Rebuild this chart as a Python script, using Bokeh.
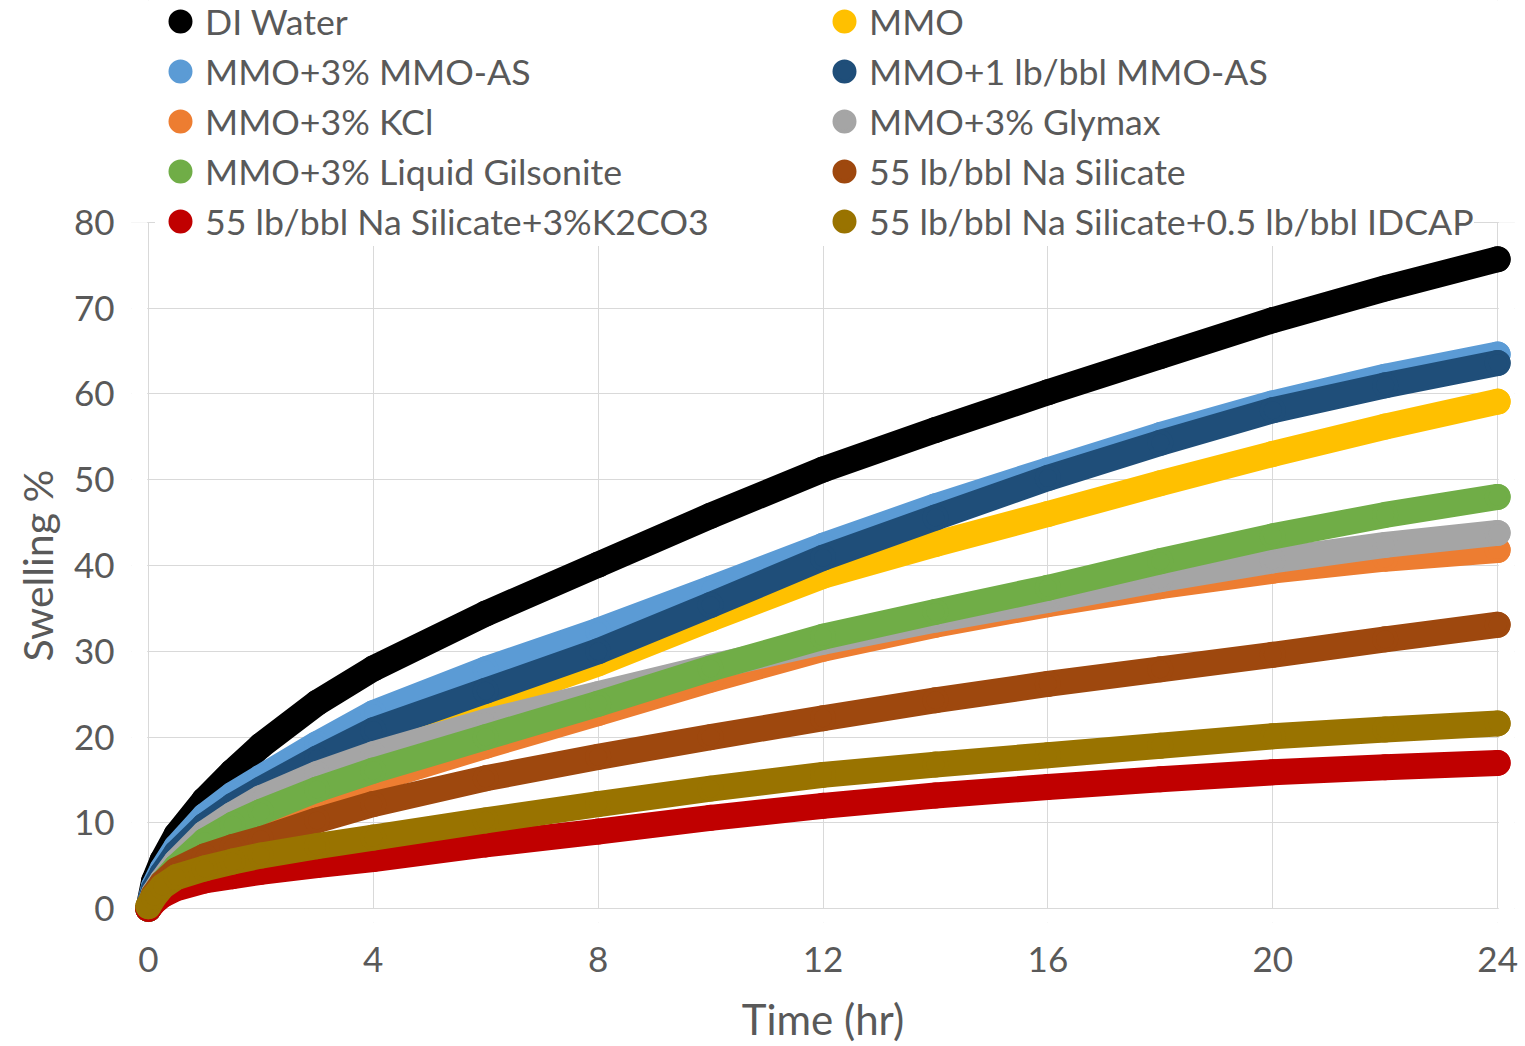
from bokeh.plotting import figure
from bokeh.models import Range1d, FixedTicker, Legend, LegendItem, BoxAnnotation, ColumnDataSource, Title
from bokeh.embed import file_html
from bokeh.resources import INLINE

# ---------------- data ----------------
time_hr = [0, 0.1, 0.25, 0.5, 1, 1.5, 2, 3, 4, 6, 8, 10, 12, 14, 16, 18, 20, 22, 24]

di_water      = [0, 3.2, 5.6, 8.6, 12.7, 16.0, 19.0, 24.0, 28.0, 34.4, 40.1, 45.8, 51.2, 55.8, 60.2, 64.4, 68.6, 72.3, 75.7]
mmo           = [0, 1.8, 3.3, 5.5, 8.8, 11.0, 12.8, 16.0, 19.0, 24.0, 28.6, 33.8, 38.8, 42.5, 46.0, 49.6, 53.0, 56.2, 59.1]
mmo_3_as      = [0, 2.6, 4.6, 7.2, 10.8, 13.3, 15.3, 19.2, 22.8, 27.9, 32.4, 37.3, 42.3, 46.9, 51.1, 55.2, 58.9, 62.0, 64.6]
mmo_1lb_as    = [0, 2.3, 4.1, 6.5, 9.7, 12.0, 13.9, 17.5, 20.8, 25.4, 30.0, 35.4, 40.9, 45.6, 50.2, 54.3, 58.1, 61.0, 63.6]
mmo_kcl       = [0, 1.5, 2.8, 4.5, 7.2, 8.9, 10.3, 12.7, 15.0, 19.0, 22.8, 26.7, 30.3, 33.1, 35.5, 37.6, 39.4, 40.8, 41.8]
mmo_glymax    = [0, 1.8, 3.3, 5.5, 8.8, 11.0, 12.9, 15.7, 18.0, 21.8, 25.0, 28.2, 31.1, 33.7, 36.0, 38.4, 40.6, 42.4, 43.8]
mmo_gilsonite = [0, 1.6, 3.0, 4.9, 7.9, 9.8, 11.3, 13.9, 16.1, 20.0, 23.9, 28.0, 31.7, 34.6, 37.4, 40.5, 43.4, 45.9, 48.0]
na_silicate   = [0, 1.6, 3.0, 4.5, 6.1, 7.2, 8.1, 10.3, 12.2, 15.2, 17.7, 20.0, 22.2, 24.3, 26.2, 27.9, 29.6, 31.4, 33.1]
na_sil_k2co3  = [0, 0.8, 1.6, 2.4, 3.3, 3.8, 4.3, 5.1, 5.8, 7.5, 9.0, 10.6, 12.0, 13.2, 14.2, 15.1, 15.9, 16.5, 17.0]
na_sil_idcap  = [0.3, 1.4, 2.6, 3.7, 4.7, 5.5, 6.2, 7.3, 8.3, 10.3, 12.2, 14.0, 15.6, 16.8, 17.9, 19.0, 20.1, 20.9, 21.6]

series_names = ["DI Water", "MMO", "MMO+3% MMO-AS", "MMO+1 lb/bbl MMO-AS", "MMO+3% KCl",
                "MMO+3% Glymax", "MMO+3% Liquid Gilsonite", "55 lb/bbl Na Silicate",
                "55 lb/bbl Na Silicate+3%K2CO3", "55 lb/bbl Na Silicate+0.5 lb/bbl IDCAP"]
series_values = [di_water, mmo, mmo_3_as, mmo_1lb_as, mmo_kcl, mmo_glymax, mmo_gilsonite,
                 na_silicate, na_sil_k2co3, na_sil_idcap]
series_colors = ["#000000", "#FFC000", "#5B9BD5", "#1F4E79", "#ED7D31",
                 "#A5A5A5", "#70AD47", "#9E480E", "#C00000", "#997300"]

x_ticks = [0, 4, 8, 12, 16, 20, 24]
y_ticks = [0, 10, 20, 30, 40, 50, 60, 70, 80]

FONT = "Lato"
TXT = "#595959"
GRID = "#D9D9D9"

Y_TOP = 105.85  # frame reaches the top of the canvas so the legend is not clipped

p = figure(width=1525, height=1046, output_backend="svg", toolbar_location=None,
           x_range=Range1d(-0.3, 24.3), y_range=Range1d(-1.6, Y_TOP),
           min_border_left=131, min_border_right=11, min_border_top=0, min_border_bottom=123)
p.outline_line_color = None
p.background_fill_color = "white"

p.xaxis.ticker = FixedTicker(ticks=x_ticks)
p.yaxis.ticker = FixedTicker(ticks=y_ticks)
for ax in (p.xaxis, p.yaxis):
    ax.axis_line_color = None
    ax.major_tick_line_color = None
    ax.minor_tick_line_color = None
    ax.major_label_text_font = FONT
    ax.major_label_text_font_size = "35px"
    ax.major_label_text_color = TXT
    ax.axis_label_text_font = FONT
    ax.axis_label_text_color = TXT
    ax.axis_label_text_font_style = "normal"
p.xaxis.axis_label = "Time (hr)"
p.xaxis.axis_label_text_font_size = "42px"
p.yaxis.major_label_standoff = 11
p.xaxis.major_label_standoff = 18
p.xaxis.axis_label_standoff = 19

# y-axis title as a left-side Title so it can be centred on the 0-80 span
ytitle = Title(text="Swelling %", align="left", offset=261, standoff=18,
               text_font=FONT, text_font_size="41px", text_font_style="normal",
               text_color=TXT)
p.add_layout(ytitle, "left")

p.xgrid.ticker = FixedTicker(ticks=x_ticks)
p.ygrid.ticker = FixedTicker(ticks=y_ticks)
for g in (p.xgrid, p.ygrid):
    g.grid_line_color = GRID
    g.grid_line_width = 1
    g.level = "image"

# white masks so grid lines stop at the data area edges (markers may overflow)
for kw in (dict(left=-0.3, right=-0.02, bottom=-1.6, top=80),
           dict(left=24.02, right=24.3, bottom=-1.6, top=80),
           dict(left=-0.3, right=24.3, bottom=-1.6, top=-0.03),
           dict(left=-0.3, right=24.3, bottom=80.05, top=Y_TOP)):
    p.add_layout(BoxAnnotation(fill_color="white", fill_alpha=1, line_color=None,
                               level="underlay", **kw))

scatters = []
for name, vals, col in zip(series_names, series_values, series_colors):
    src = ColumnDataSource(dict(t=time_hr, v=vals))
    p.line("t", "v", source=src, line_color=col, line_width=26,
           line_cap="round", line_join="round")
    # 22 px dot + 4 px outline = 26 px, same as the line; legend dot = 20 + 4 = 24 px
    sc = p.scatter("t", "v", source=src, marker="circle", size=22,
                   fill_color=col, line_color=col, line_width=4)
    scatters.append(sc)

def make_legend(idx, x, label_width):
    items = [LegendItem(label=series_names[i], renderers=[scatters[i]]) for i in idx]
    return Legend(items=items, location=(x, 676), orientation="vertical",
                  padding=0, margin=0, spacing=0, glyph_width=50, glyph_height=50,
                  label_standoff=0, label_width=label_width,
                  label_text_font=FONT, label_text_font_size="35.7px",
                  label_text_color=TXT, background_fill_color="white",
                  background_fill_alpha=1, border_line_color=None)

p.add_layout(make_legend([0, 2, 4, 6, 8], 24, 620), "center")
p.add_layout(make_legend([1, 3, 5, 7, 9], 688, 20), "center")

open("out.html", "w").write(file_html(p, INLINE))
